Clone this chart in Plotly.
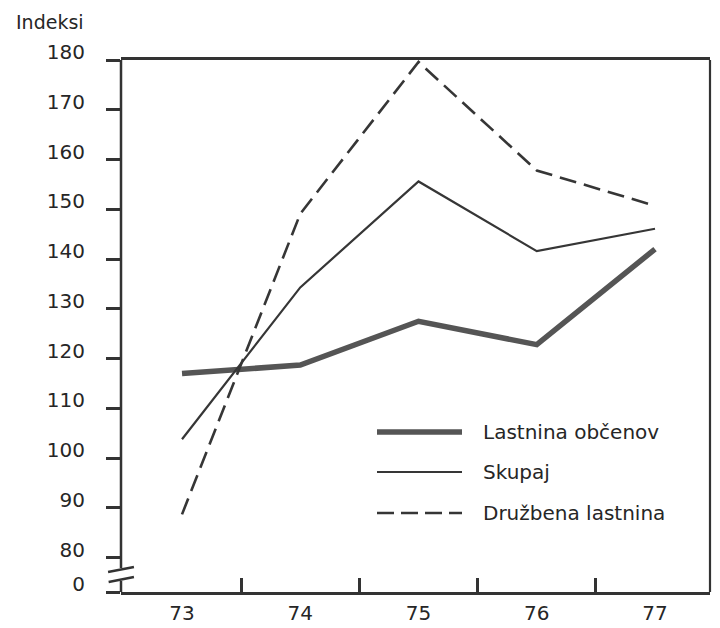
import plotly.graph_objects as go

years = [73, 74, 75, 76, 77]
year_labels = ["73", "74", "75", "76", "77"]
lastnina_obcanov = [117.0, 118.7, 127.5, 122.8, 142.0]
skupaj = [103.8, 134.3, 155.6, 141.6, 146.1]
druzbena = [88.7, 149.1, 179.6, 157.8, 150.7]
y_ticks = [73.1, 80, 90, 100, 110, 120, 130, 140, 150, 160, 170, 180]
y_tick_labels = ["0", "80", "90", "100", "110", "120", "130", "140", "150", "160", "170", "180"]
legend_names = ["Lastnina občenov", "Skupaj", "Družbena lastnina"]

INK = "#333333"
TXT = "#262626"
FONT = "DejaVu Sans, Verdana, sans-serif"

fig = go.Figure()
fig.add_trace(go.Scatter(x=years, y=lastnina_obcanov, mode="lines", name=legend_names[0],
                         line=dict(color="#555555", width=5.5)))
fig.add_trace(go.Scatter(x=years, y=skupaj, mode="lines", name=legend_names[1],
                         line=dict(color="#363636", width=2.2)))
fig.add_trace(go.Scatter(x=years, y=druzbena, mode="lines", name=legend_names[2],
                         line=dict(color="#363636", width=2.6, dash="17px,8px")))

shapes = []
# left axis with break
shapes.append(dict(type="line", xref="paper", yref="paper", x0=0, x1=0, y0=0.0451, y1=1,
                   line=dict(color=INK, width=2.5)))
shapes.append(dict(type="line", xref="paper", yref="paper", x0=0, x1=0, y0=0, y1=0.0207,
                   line=dict(color=INK, width=2.5)))
# break marks
shapes.append(dict(type="line", xref="paper", yref="paper", x0=-0.022, x1=0.022, y0=0.0376, y1=0.047,
                   line=dict(color=INK, width=2.5)))
shapes.append(dict(type="line", xref="paper", yref="paper", x0=-0.021, x1=0.022, y0=0.0188, y1=0.0282,
                   line=dict(color=INK, width=2.5)))
# right border
shapes.append(dict(type="line", xref="paper", yref="paper", x0=1, x1=1, y0=0, y1=1,
                   line=dict(color=INK, width=2.2)))

# manual legend (samples + text)
leg_y = [(592 - 432) / 532, (592 - 472) / 532, (592 - 513) / 532]
lx0 = (377 - 121) / 589
lx1 = (462 - 121) / 589
styles = [dict(color="#555555", width=5.5), dict(color="#363636", width=2.2),
          dict(color="#363636", width=2.6, dash="17px,7px")]
annotations = []
for name, yy, st in zip(legend_names, leg_y, styles):
    shapes.append(dict(type="line", xref="paper", yref="paper", x0=lx0, x1=lx1, y0=yy, y1=yy, line=st))
    annotations.append(dict(xref="paper", yref="paper", x=(481 - 121) / 589, y=yy, text=name,
                            showarrow=False, xanchor="left", yanchor="middle",
                            font=dict(family=FONT, size=20, color=TXT)))

annotations.append(dict(xref="paper", yref="paper", x=(14 - 121) / 589, y=(592 - 22) / 532,
                        text="Indeksi", showarrow=False, xanchor="left", yanchor="middle",
                        font=dict(family=FONT, size=19, color=TXT)))

# page body has an 8px default margin, so size the figure to land the plot area in place
fig.update_layout(
    width=712, height=620,
    margin=dict(l=113, r=10, t=52, b=36, autoexpand=False),
    paper_bgcolor="white", plot_bgcolor="white",
    showlegend=False,
    shapes=shapes,
    annotations=annotations,
    xaxis=dict(range=[72.484, 77.465], tickmode="array", tickvals=years, ticktext=year_labels,
               ticks="", showgrid=False, zeroline=False, showline=True, mirror=True,
               linecolor=INK, linewidth=2.5, ticklabelstandoff=1, automargin=False,
               tickfont=dict(family=FONT, size=20, color=TXT),
               minor=dict(tickmode="array", tickvals=[73.5, 74.5, 75.5, 76.5], ticks="inside",
                          ticklen=14, tickwidth=2.5, tickcolor=INK, showgrid=False)),
    yaxis=dict(range=[73.1, 180], tickmode="array", tickvals=y_ticks, ticktext=y_tick_labels,
               ticks="outside", ticklen=14, tickwidth=2.5, tickcolor=INK,
               showgrid=False, zeroline=False, showline=False, automargin=False,
               ticklabelstandoff=17, ticklabelshift=-8,
               tickfont=dict(family=FONT, size=20, color=TXT)),
)

fig.write_html("out.html")
